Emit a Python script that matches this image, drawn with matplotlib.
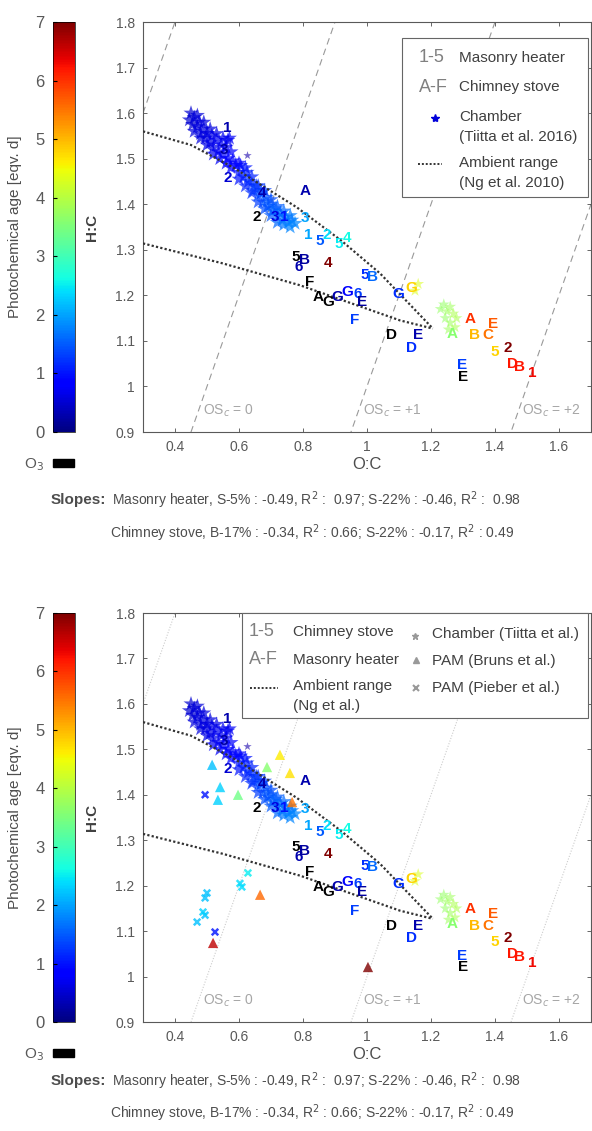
import numpy as np
import matplotlib.pyplot as plt
from matplotlib.patches import Rectangle
from matplotlib.lines import Line2D
from matplotlib.colors import Normalize
from matplotlib.cm import ScalarMappable

plt.rcParams['font.family'] = ['Liberation Sans', 'DejaVu Sans']

W, H = 592, 1131

# chamber (Tiitta et al. 2016) star cloud: O:C, H:C, photochemical age
cloud_oc = [0.445, 0.455, 0.46, 0.47, 0.475, 0.48, 0.49, 0.495, 0.50, 0.51, 0.515, 0.52, 0.53,
            0.535, 0.545, 0.55, 0.56, 0.565, 0.575, 0.58, 0.57, 0.59, 0.60, 0.605, 0.615, 0.625,
            0.63, 0.64, 0.645, 0.655, 0.66, 0.67, 0.675, 0.685, 0.69, 0.70, 0.705, 0.715, 0.72,
            0.73, 0.735, 0.745, 0.755, 0.765,
            0.45, 0.47, 0.49, 0.51, 0.53, 0.55, 0.565,
            0.46, 0.48, 0.50, 0.52, 0.54, 0.56, 0.575,
            0.60, 0.62, 0.64, 0.66, 0.68, 0.70, 0.72, 0.74, 0.76,
            0.60, 0.62, 0.64, 0.66, 0.68, 0.70, 0.72, 0.74, 0.76, 0.775]
cloud_hc = [1.585, 1.575, 1.59, 1.57, 1.58, 1.555, 1.565, 1.545, 1.555, 1.535, 1.55, 1.525, 1.54,
            1.515, 1.53, 1.51, 1.525, 1.50, 1.515, 1.495, 1.545, 1.485, 1.47, 1.485, 1.46, 1.47,
            1.45, 1.445, 1.43, 1.44, 1.42, 1.425, 1.405, 1.415, 1.395, 1.40, 1.385, 1.39, 1.375,
            1.38, 1.365, 1.372, 1.36, 1.365,
            1.60, 1.595, 1.58, 1.565, 1.555, 1.545, 1.54,
            1.56, 1.545, 1.53, 1.51, 1.50, 1.49, 1.48,
            1.49, 1.48, 1.46, 1.44, 1.43, 1.41, 1.395, 1.385, 1.375,
            1.455, 1.44, 1.425, 1.405, 1.39, 1.375, 1.36, 1.355, 1.35, 1.358]
cloud_age = [0.5, 0.5, 0.55, 0.6, 0.55, 0.6, 0.6, 0.6, 0.6, 0.65, 0.65, 0.65, 0.7,
             0.7, 0.7, 0.75, 0.75, 0.8, 0.8, 0.8, 0.75, 0.9, 1.0, 0.95, 1.1, 1.1,
             1.2, 1.2, 1.3, 1.3, 1.35, 1.4, 1.45, 1.45, 1.5, 1.5, 1.55, 1.55, 1.6,
             1.6, 1.65, 1.65, 1.7, 1.7,
             0.5, 0.55, 0.6, 0.6, 0.65, 0.7, 0.7,
             0.6, 0.6, 0.65, 0.7, 0.75, 0.8, 0.85,
             0.9, 1.0, 1.1, 1.2, 1.3, 1.4, 1.5, 1.6, 1.7,
             1.0, 1.1, 1.2, 1.3, 1.4, 1.5, 1.6, 1.7, 1.8, 1.8]

# aged chamber points near O:C 1.25
aged_oc = [1.23, 1.24, 1.25, 1.26, 1.245, 1.27, 1.26, 1.28, 1.275, 1.255, 1.16, 1.15]
aged_hc = [1.17, 1.18, 1.165, 1.175, 1.15, 1.16, 1.14, 1.15, 1.13, 1.125, 1.225, 1.21]
aged_age = [3.7, 3.7, 3.8, 3.8, 3.7, 3.9, 3.8, 3.9, 3.9, 3.8, 4.3, 4.3]

outlier_oc, outlier_hc = [0.625], [1.508]

# experiment labels (nan age = O3 exposure, drawn black)
nan = np.nan
lab_text = ['1', '3', '2', '4', '2', '3', '1', 'A', '3', '1', '5', '2', '5', '4',
            '6', '5', 'B', '4', 'F', 'A', 'G', 'G', 'G', '6', 'E', 'F', '5', 'B',
            'D', 'G', 'G', 'E', 'D', 'A', 'A', 'E', 'B', 'C', 'E', 'E', '5', '2',
            'D', 'B', '1']
lab_oc = [0.5625, 0.553, 0.566, 0.672, 0.656, 0.7125, 0.74, 0.806, 0.806, 0.816, 0.853, 0.875,
          0.9125, 0.9375, 0.7875, 0.778, 0.806, 0.878, 0.822, 0.847, 0.878, 0.906, 0.9375,
          0.972, 0.984, 0.9625, 0.994, 1.016, 1.078, 1.097, 1.14, 1.159, 1.14, 1.266, 1.322,
          1.394, 1.3375, 1.378, 1.297, 1.30, 1.40, 1.44, 1.456, 1.478, 1.516]
lab_hc = [1.567, 1.519, 1.457, 1.424, 1.371, 1.371, 1.371, 1.43, 1.369, 1.332, 1.319, 1.332,
          1.312, 1.325, 1.262, 1.284, 1.277, 1.270, 1.229, 1.196, 1.185, 1.196, 1.207,
          1.204, 1.185, 1.145, 1.244, 1.24, 1.112, 1.204, 1.215, 1.112, 1.084, 1.116, 1.149,
          1.138, 1.112, 1.112, 1.046, 1.02, 1.075, 1.084, 1.05, 1.042, 1.029]
lab_age = [0.3, 0.2, 0.5, 0.3, nan, 0.6, 1.0, 0.3, 2.0, 2.0, 1.5, 2.4, 2.5, 2.6,
           0.3, nan, 0.2, 7.0, nan, nan, nan, 0.3, 0.8, 1.3, 0.2, 1.3, 1.2, 1.6,
           nan, 1.2, 4.8, 0.3, 1.2, 3.6, 6.0, 5.7, 5.0, 5.5, 1.3, nan, 4.8, 7.0,
           6.2, 6.2, 6.3]

# PAM data (bottom panel only)
bruns_oc = [0.728, 0.6875, 0.759, 0.516, 0.541, 0.534, 0.597, 0.766, 0.666, 0.519, 1.003]
bruns_hc = [1.488, 1.461, 1.448, 1.466, 1.417, 1.389, 1.40, 1.384, 1.18, 1.074, 1.021]
bruns_age = [4.6, 3.6, 4.7, 2.2, 2.3, 2.3, 3.4, 5.5, 5.6, 6.6, 7.0]
pieber_oc = [0.494, 0.50, 0.494, 0.494, 0.4875, 0.469, 0.525, 0.603, 0.628, 0.609]
pieber_hc = [1.40, 1.184, 1.173, 1.135, 1.142, 1.12, 1.098, 1.205, 1.228, 1.197]
pieber_age = [1.0, 2.2, 2.2, 2.2, 2.3, 2.2, 1.0, 2.4, 2.5, 2.4]

# ambient range (Ng et al. 2010)
ng_up_oc = [0.3, 0.45, 0.581, 0.781, 0.92, 1.041, 1.206]
ng_up_hc = [1.56, 1.53, 1.481, 1.393, 1.32, 1.248, 1.127]
ng_lo_oc = [0.3, 0.55, 0.791, 1.103, 1.206]
ng_lo_hc = [1.314, 1.27, 1.222, 1.145, 1.127]

osc_values = [-1, 0, 1, 2]
osc_labels = ['OS$_c$ = 0', 'OS$_c$ = +1', 'OS$_c$ = +2']
osc_label_oc = [0.4875, 0.9875, 1.484]

cmap = plt.get_cmap('jet')
norm = Normalize(0, 7)


def fx(px):
    return px / W


def fy(py):
    return 1 - py / H


def col(a):
    return 'black' if np.isnan(a) else cmap(norm(a))


fig = plt.figure(figsize=(W / 100, H / 100), dpi=100)


def panel(top, bottom, with_pam):
    ax = fig.add_axes([fx(143), fy(bottom), 448 / W, (bottom - top) / H])
    ax.set_xlim(0.3, 1.7)
    ax.set_ylim(0.9, 1.8)
    ax.set_xticks([0.4, 0.6, 0.8, 1.0, 1.2, 1.4, 1.6])
    ax.set_xticklabels(['0.4', '0.6', '0.8', '1', '1.2', '1.4', '1.6'])
    ax.set_yticks(np.arange(0.9, 1.81, 0.1))
    ax.set_yticklabels(['0.9', '1', '1.1', '1.2', '1.3', '1.4', '1.5', '1.6', '1.7', '1.8'])
    ax.tick_params(direction='in', top=True, right=True, length=3, width=0.6,
                   labelsize=10, labelcolor='0.35', color='0.3', pad=6)
    for s in ax.spines.values():
        s.set_color('0.35')
        s.set_linewidth(0.8)
    ax.set_xlabel('O:C', fontsize=12, color='0.3', labelpad=2)
    ax.set_ylabel('H:C', fontsize=11, color='0.25', labelpad=12, fontweight='bold')

    # oxidation state lines
    xs = np.array([0.3, 1.7])
    for osc in osc_values:
        if with_pam:
            ax.plot(xs, 2 * xs - osc, color='0.8', lw=0.8, ls=(0, (1, 1.5)), zorder=1)
        else:
            ax.plot(xs, 2 * xs - osc, color='0.6', lw=0.8, ls=(0, (6, 4)), zorder=1)
    for t, x in zip(osc_labels, osc_label_oc):
        ax.text(x, 0.947, t, color='0.65', fontsize=10, va='center', ha='left')

    ax.plot(ng_up_oc, ng_up_hc, color='0.2', lw=1.6, ls=(0, (1, 1)), zorder=3)
    ax.plot(ng_lo_oc, ng_lo_hc, color='0.2', lw=1.6, ls=(0, (1, 1)), zorder=3)

    ax.scatter(cloud_oc, cloud_hc, c=cloud_age, cmap=cmap, norm=norm, marker='*', s=130,
               linewidths=0, alpha=0.7, zorder=2)
    ax.scatter(aged_oc, aged_hc, c=aged_age, cmap=cmap, norm=norm, marker='*', s=80,
               linewidths=0, alpha=0.55, zorder=2)
    ax.scatter(outlier_oc, outlier_hc, color=(0.45, 0.4, 0.8), marker='*', s=40,
               linewidths=0, zorder=2)
    if with_pam:
        ax.scatter(bruns_oc, bruns_hc, c=bruns_age, cmap=cmap, norm=norm, marker='^', s=55,
                   linewidths=0, alpha=0.8, zorder=4)
        ax.scatter(pieber_oc, pieber_hc, c=pieber_age, cmap=cmap, norm=norm, marker='x', s=22,
                   linewidths=1.8, alpha=0.8, zorder=4)

    for t, x, y, a in zip(lab_text, lab_oc, lab_hc, lab_age):
        ax.text(x, y, t, color=col(a), fontsize=11, fontweight='bold',
                ha='center', va='center', zorder=5)

    # colourbar
    cax = fig.add_axes([fx(53), fy(bottom), 22 / W, (bottom - top) / H])
    cb = fig.colorbar(ScalarMappable(norm=norm, cmap=cmap), cax=cax)
    cb.set_ticks(range(8))
    cax.yaxis.set_ticks_position('left')
    cax.tick_params(direction='in', length=3, labelsize=12, labelcolor='0.35', pad=6)
    cb.outline.set_linewidth(0.5)
    fig.text(fx(15), fy((top + bottom) / 2), 'Photochemical age [eqv. d]', rotation=90,
             fontsize=11, color='0.3', ha='center', va='center')
    # O3 patch
    fig.add_artist(Rectangle((fx(53), fy(bottom + 35)), 21 / W, 8 / H, color='black',
                             transform=fig.transFigure))
    fig.text(fx(44), fy(bottom + 33), 'O$_3$', fontsize=11, color='0.35', ha='right',
             va='center')
    return ax


def ftext(px, py, s, **kw):
    kw.setdefault('va', 'center')
    kw.setdefault('ha', 'left')
    fig.text(fx(px), fy(py), s, **kw)


def fline(x0, x1, py, **kw):
    fig.add_artist(Line2D([fx(x0), fx(x1)], [fy(py), fy(py)], transform=fig.transFigure, **kw))


def fmark(px, py, **kw):
    fig.add_artist(Line2D([fx(px)], [fy(py)], transform=fig.transFigure, ls='none', **kw))


def slopes(y1, y2):
    ftext(51, y1, 'Slopes:', fontsize=11, fontweight='bold', color='0.3')
    ftext(112, y1, 'Masonry heater, S-5% : -0.49, R$^2$ :  0.97; S-22% : -0.46, R$^2$ :  0.98',
          fontsize=10, color='0.3')
    ftext(110, y2, 'Chimney stove, B-17% : -0.34, R$^2$ : 0.66; S-22% : -0.17, R$^2$ : 0.49',
          fontsize=10, color='0.3')


# top panel
panel(22, 432, False)
fig.add_artist(Rectangle((fx(402), fy(197)), (588 - 402) / W, (197 - 38) / H, facecolor='white',
                         edgecolor='0.4', lw=0.8, transform=fig.transFigure, zorder=6))
lk = dict(fontsize=11, color='0.25', zorder=7)
ftext(419, 58, '1-5', fontsize=13, color='0.5', zorder=7)
ftext(459, 58, 'Masonry heater', **lk)
ftext(419, 87, 'A-F', fontsize=13, color='0.5', zorder=7)
ftext(459, 87, 'Chimney stove', **lk)
fmark(435, 118, marker='*', color=cmap(0.08), ms=6, zorder=7)
ftext(459, 117, 'Chamber', **lk)
ftext(459, 137, '(Tiitta et al. 2016)', **lk)
fline(418, 442, 164, color='0.2', lw=1.4, ls=(0, (1, 1)), zorder=7)
ftext(459, 163, 'Ambient range', **lk)
ftext(459, 183, '(Ng et al. 2010)', **lk)
slopes(500, 533)

# bottom panel
panel(613, 1022, True)
fig.add_artist(Rectangle((fx(242), fy(718)), (588 - 242) / W, (718 - 613) / H, facecolor='white',
                         edgecolor='0.4', lw=0.8, transform=fig.transFigure, zorder=6))
ftext(249, 632, '1-5', fontsize=13, color='0.5', zorder=7)
ftext(293, 632, 'Chimney stove', **lk)
ftext(249, 660, 'A-F', fontsize=13, color='0.5', zorder=7)
ftext(293, 660, 'Masonry heater', **lk)
fline(250, 278, 688, color='0.2', lw=1.4, ls=(0, (1, 1)), zorder=7)
ftext(293, 686, 'Ambient range', **lk)
ftext(293, 706, '(Ng et al.)', **lk)
fmark(415, 636, marker='*', color='0.6', ms=5, zorder=7)
ftext(432, 634, 'Chamber (Tiitta et al.)', **lk)
fmark(416, 660, marker='^', color='0.6', ms=4, zorder=7)
ftext(432, 661, 'PAM (Bruns et al.)', **lk)
fmark(416, 688, marker='x', color='0.6', ms=4, mew=1.5, zorder=7)
ftext(432, 688, 'PAM (Pieber et al.)', **lk)
slopes(1081, 1113)

fig.savefig('out.png', dpi=100)
